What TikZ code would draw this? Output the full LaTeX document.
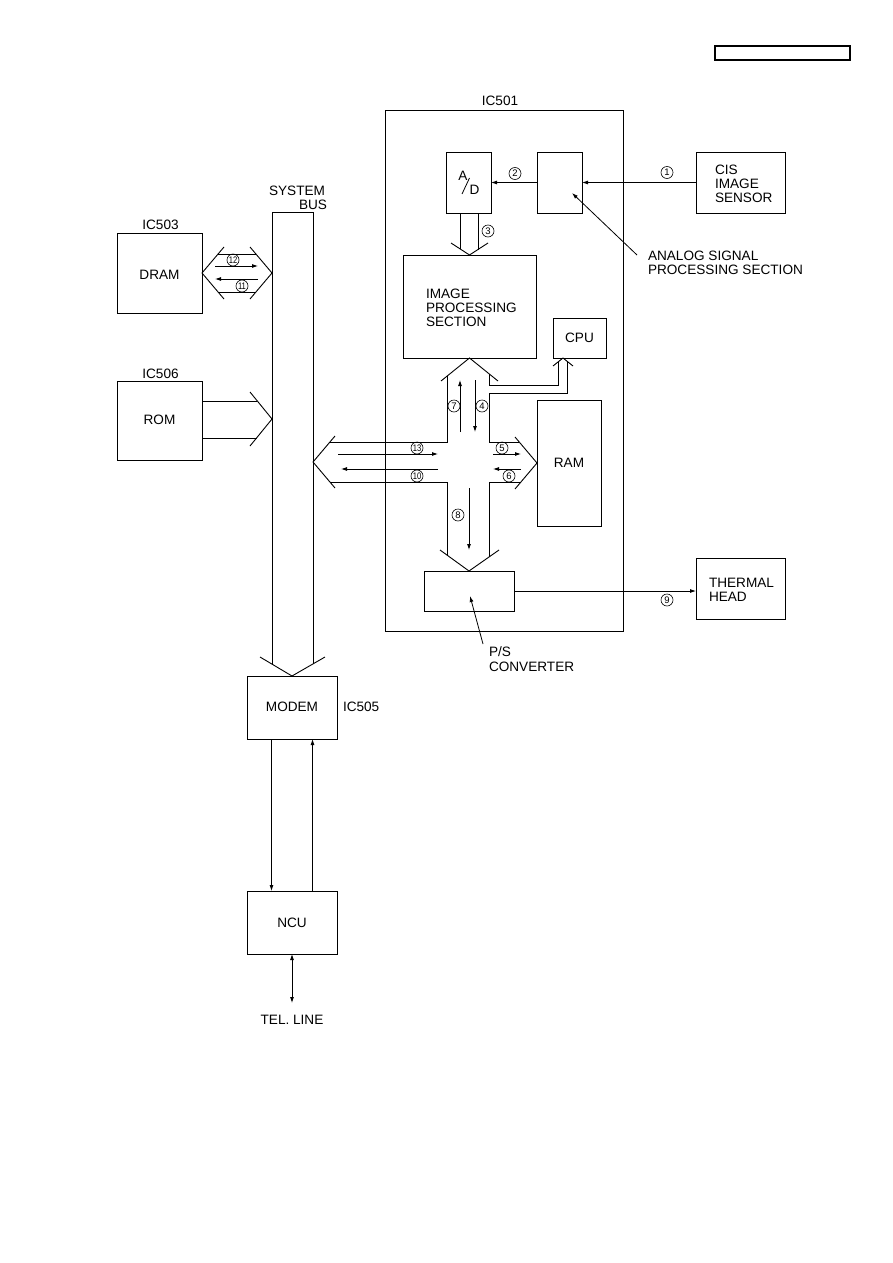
\documentclass[tikz,border=0pt]{standalone}
\usepackage{fontspec}
\setmainfont{Liberation Sans}
\usepackage{graphicx}
\usetikzlibrary{arrows.meta}
\newcommand\fs{\fontsize{13.6}{14.2}\selectfont}
\newcommand\nf{\fontsize{9.5}{9.5}\selectfont}
\newcommand\tw[1]{\scalebox{0.8}[1]{#1}}
\begin{document}
\begin{tikzpicture}[x=1pt,y=-1pt,
  box/.style={draw, line width=0.9pt, inner sep=0pt, outer sep=0pt, anchor=north west},
  lbl/.style={font=\fs, inner sep=0pt, outer sep=0pt},
  num/.style={circle, draw, line width=0.6pt, inner sep=0pt, minimum size=12pt, font=\nf},
  arr/.style={-{Latex[length=6pt,width=4pt]}, line width=0.8pt},
  bus/.style={line width=0.9pt, line join=miter}]
\useasboundingbox (0,0) rectangle (893,1263);
\fill[white] (0,0) rectangle (893,1263);

% header box
\node[box, line width=1.6pt, minimum width=135pt, minimum height=14pt] (hdr) at (715,46) {};

% boxes
\node[box, minimum width=238pt, minimum height=521pt] (ic501) at (385,110) {};
\node[lbl] (ic501l) at (500,101) {IC501};
\node[box, minimum width=45pt, minimum height=61pt] (ad) at (446,152) {};
\node[lbl] (adA) at (463,175.5) {A};
\node[lbl] (adD) at (474.5,189.5) {D};
\coordinate (s1) at (462,194); \coordinate (s2) at (469.5,178);
\draw[line width=0.8pt] (s1) -- (s2);
\node[box, minimum width=45pt, minimum height=61pt] (asp) at (537,152) {};
\node[box, minimum width=89pt, minimum height=61pt] (cis) at (696,152) {};
\node[lbl, anchor=north west, align=left] (cisl) at (715,165) {CIS\\IMAGE\\SENSOR};
\node[box, minimum width=133pt, minimum height=103pt] (ipu) at (403,255) {};
\node[lbl, anchor=north west, align=left] (ipul) at (426,289) {IMAGE\\PROCESSING\\SECTION};
\node[box, minimum width=53pt, minimum height=40pt] (cpu) at (553,318) {};
\node[lbl] (cpul) at (579.5,338) {CPU};
\node[box, minimum width=64pt, minimum height=126pt] (ram) at (537,400) {};
\node[lbl] (raml) at (569,463) {RAM};
\node[box, minimum width=90pt, minimum height=40pt] (ps) at (424,571) {};
\node[box, minimum width=89pt, minimum height=61pt] (thermal) at (696,558) {};
\node[lbl, anchor=north west, align=left] (thermall) at (709,578) {THERMAL\\HEAD};
\node[lbl, anchor=north west, align=left] (asplbl) at (648,251) {ANALOG SIGNAL\\PROCESSING SECTION};
\node[lbl, anchor=north west, align=left] (pslbl) at (489,647) {P/S\\CONVERTER};

\node[box, minimum width=85pt, minimum height=80pt] (dram) at (117,233) {};
\node[lbl] (draml) at (159.5,275) {DRAM};
\node[lbl] (ic503) at (160.5,225) {IC503};
\node[box, minimum width=85pt, minimum height=79pt] (rom) at (117,381) {};
\node[lbl] (roml) at (159.5,420) {ROM};
\node[lbl] (ic506) at (160.5,374) {IC506};
\node[lbl, anchor=east] (sys1) at (325,190.5) {SYSTEM};
\node[lbl, anchor=east] (sys2) at (327,204.5) {BUS};

\node[box, minimum width=90pt, minimum height=63pt] (modem) at (247,676) {};
\node[lbl] (modeml) at (292,707) {MODEM};
\node[lbl, anchor=west] (ic505) at (343,707) {IC505};
\node[box, minimum width=90pt, minimum height=63pt] (ncu) at (247,891) {};
\node[lbl] (ncul) at (292,923) {NCU};
\node[lbl] (tel) at (292,1020) {TEL. LINE};
\coordinate (telend) at (292,1003);

% signal arrows
\draw[arr] (cis.west) -- (asp.east);
\draw[arr] (asp.west) -- (ad.east);
\draw[arr] (ps.east) -- (ps.east -| thermal.west);
\coordinate (aspfrom) at (637,255); \coordinate (aspto) at (572,193);
\draw[arr] (aspfrom) -- (aspto);
\coordinate (psfrom) at (483,644); \coordinate (psto) at (470,596);
\draw[arr] (psfrom) -- (psto);
\draw[arr] ([xshift=-20.5pt]modem.south) -- ([xshift=-20.5pt]ncu.north);
\draw[arr] ([xshift=20.5pt]ncu.north) -- ([xshift=20.5pt]modem.south);
\draw[arr, {Latex[length=6pt,width=4pt]}-{Latex[length=6pt,width=4pt]}] (ncu.south) -- (telend);

% system bus
\draw[bus] (272,664.1) -- (272,212) -- (313,212) -- (313,663.9);
\draw[bus] (260,657) -- (modem.north) -- (325,657);

% A/D -> image processing bus (3)
\draw[bus] (460,213) -- (460,248.8);
\draw[bus] (478,213) -- (478,249.5);
\draw[bus] (451,243) -- (ipu.north) -- (488,243);

% DRAM double bus
\draw[bus] (224,247) -- (dram.east) -- (224,299);
\draw[bus] (250,247) -- (272,273) -- (250,299);
\draw[bus] (218,254) -- (256,254);
\draw[bus] (218,292) -- (256,292);

% ROM bus
\draw[bus] (rom.east |- 0,401) -- (257,401);
\draw[bus] (rom.east |- 0,438) -- (256.5,438);
\draw[bus] (250,392) -- (272,419) -- (250,446);

% cross bus
\draw[bus] (441,381) -- (469.5,358) -- (498,381);
\draw[bus] (447,376.2) -- (447,442) -- (330,442);
\draw[bus] (335,436) -- (313,462) -- (335,488);
\draw[bus] (330,482) -- (447,482) -- (447,555);
\draw[bus] (440,550) -- (ps.north) -- (499,550);
\draw[bus] (489,557) -- (489,482) -- (520.9,482);
\draw[bus] (519.2,442) -- (489,442) -- (489,393) -- (567,393) -- (567,361.2);
\draw[bus] (515,437) -- (ram.west) -- (515,489);
\draw[bus] (489,373.7) -- (489,385) -- (558,385) -- (558,362);
\draw[bus] (553,366) -- (563,358) -- (573,366);

% small arrows
\coordinate (a7s) at (460,432); \coordinate (a7e) at (460,380);
\coordinate (a4s) at (475,380); \coordinate (a4e) at (475,432);
\coordinate (a13s) at (338,454); \coordinate (a13e) at (438,454);
\coordinate (a10s) at (438,469); \coordinate (a10e) at (341,469);
\coordinate (a5s) at (493,454); \coordinate (a5e) at (521,454);
\coordinate (a6s) at (521,469); \coordinate (a6e) at (493,469);
\coordinate (a8s) at (469,488); \coordinate (a8e) at (469,550);
\coordinate (a12s) at (215,266); \coordinate (a12e) at (258,266);
\coordinate (a11s) at (258,279); \coordinate (a11e) at (215,279);
\draw[arr] (a7s) -- (a7e);
\draw[arr] (a4s) -- (a4e);
\draw[arr] (a13s) -- (a13e);
\draw[arr] (a10s) -- (a10e);
\draw[arr] (a5s) -- (a5e);
\draw[arr] (a6s) -- (a6e);
\draw[arr] (a8s) -- (a8e);
\draw[arr] (a12s) -- (a12e);
\draw[arr] (a11s) -- (a11e);

% circled numbers
\node[num] (n1) at (667,172.5) {1};
\node[num] (n2) at (515,173.5) {2};
\node[num] (n3) at (488,231) {3};
\node[num] (n4) at (482,406) {4};
\node[num] (n5) at (502,448) {5};
\node[num] (n6) at (509,476) {6};
\node[num] (n7) at (454,406) {7};
\node[num] (n8) at (458,515) {8};
\node[num] (n9) at (667,600) {9};
\node[num] (n10) at (417,476) {\tw{10}};
\node[num] (n11) at (242,286) {\tw{11}};
\node[num] (n12) at (233,260) {\tw{12}};
\node[num] (n13) at (417,448) {\tw{13}};
\end{tikzpicture}
\end{document}
